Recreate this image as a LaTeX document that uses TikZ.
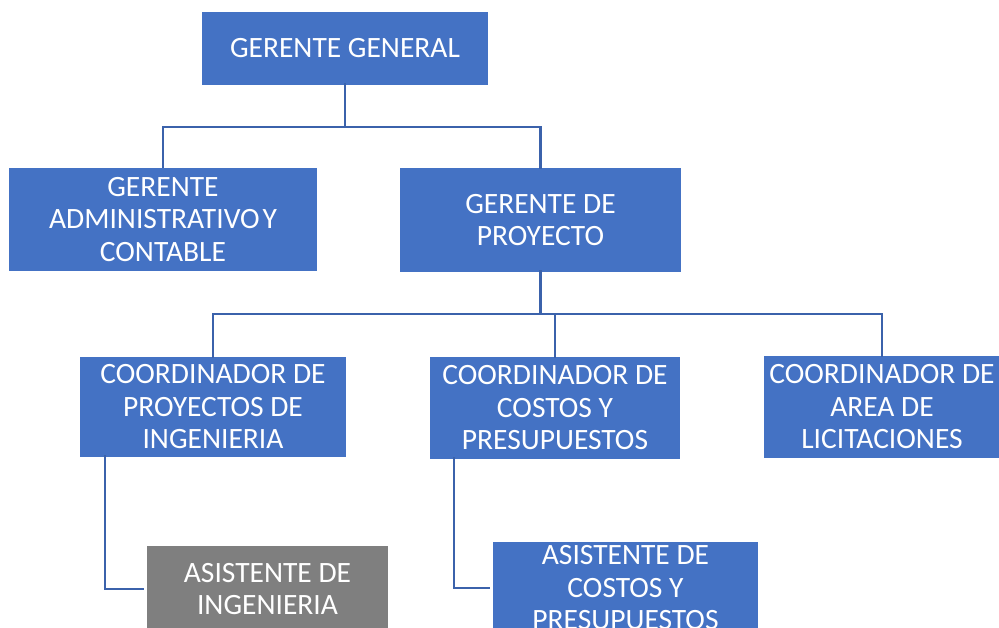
\documentclass[tikz,border=0pt]{standalone}
\usepackage{fontspec}
\setmainfont{Carlito}
\definecolor{boxblue}{HTML}{4472C4}
\definecolor{boxgray}{HTML}{7F7F7F}
\definecolor{linkblue}{HTML}{3B62AB}
\begin{document}
\begin{tikzpicture}[x=1pt,y=-1pt,
  orgbox/.style={fill=boxblue,text=white,inner sep=0pt,align=center,
    font=\fontsize{29.5}{32.5}\selectfont},
  graybox/.style={orgbox,fill=boxgray},
  link/.style={draw=linkblue,line width=2.2pt}]
\useasboundingbox (0,0) rectangle (999,628);
\clip (0,0) rectangle (999,628);
\fill[white] (0,0) rectangle (999,628);
% boxes
\node[orgbox,minimum width=286pt,minimum height=73pt] (gg) at (345,48.5) {GERENTE GENERAL};
\node[orgbox,minimum width=308pt,minimum height=103pt] (gac) at (163,219.5) {GERENTE\\ADMINISTRATIVO\hspace{0.1em}Y\\CONTABLE};
\node[orgbox,minimum width=281pt,minimum height=104pt] (gp) at (540.5,220) {GERENTE DE\\PROYECTO};
\node[orgbox,minimum width=266pt,minimum height=100pt] (cpi) at (213,407) {COORDINADOR DE\\PROYECTOS DE\\INGENIERIA};
\node[orgbox,minimum width=250pt,minimum height=102pt] (ccp) at (555,408) {COORDINADOR DE\\COSTOS Y\\PRESUPUESTOS};
\node[orgbox,minimum width=236pt,minimum height=102pt] (cal) at (882,407) {COORDINADOR DE\\AREA DE\\LICITACIONES};
\node[graybox,minimum width=241pt,minimum height=86pt] (ai) at (267.5,589) {ASISTENTE DE\\INGENIERIA};
\node[orgbox,minimum width=265pt,minimum height=92pt] (ac) at (625.5,588) {ASISTENTE DE\\COSTOS Y\\PRESUPUESTOS};
% connectors
\coordinate (b1) at (345,127);
\coordinate (b2) at (540.5,314);
\draw[link] ([yshift=2pt]gg.south) -- (b1);
\draw[link] (gac.north -| 163,0) |- (b1) -| ([yshift=-1pt]gp.north);
\draw[link] ([yshift=2pt]gp.south) -- (b2);
\draw[link] ([yshift=-1pt]cpi.north) |- (b2);
\draw[link] (b2) -| ([yshift=-1pt]ccp.north);
\draw[link] (b2) -| ([yshift=-1pt]cal.north);
\draw[link] ([yshift=2pt]cpi.south -| 105,0) |- ([xshift=-3pt]ai.west);
\draw[link] ([yshift=2pt]ccp.south -| 454,0) |- ([xshift=-3pt]ac.west |- 0,588);
\end{tikzpicture}
\end{document}
